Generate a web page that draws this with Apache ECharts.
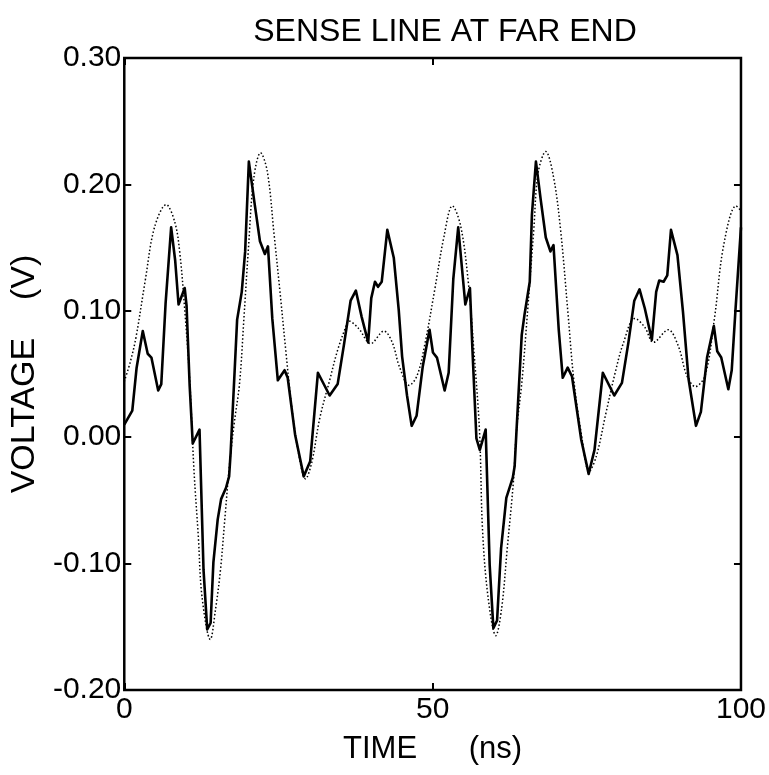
<!DOCTYPE html>
<html>
<head>
<meta charset="utf-8">
<script src="https://cdn.jsdelivr.net/npm/echarts@6/dist/echarts.min.js"></script>
<style>
html,body{margin:0;padding:0;background:#fff;}
#c{width:769px;height:775px;}
</style>
</head>
<body>
<div id="c"></div>
<script>
// Time axis ticks and labels
const xTickValues = [0, 50, 100];
const yTickLabels = ['-0.20', '-0.10', '0.00', '0.10', '0.20', '0.30'];

// Solid trace: time (ns)
const solidTime = [0,1.3,2.0,3.0,3.8,4.4,5.5,6.0,6.7,7.6,8.25,8.8,9.8,10.1,10.6,11.1,12.2,12.85,13.45,14.0,14.45,15.15,15.7,16.5,17.0,17.25,17.9,18.3,19.05,19.6,20.2,21.1,22.0,22.8,23.3,24.0,24.9,26.0,26.5,27.7,29.1,30.15,31.4,33.3,34.6,35.65,36.7,37.55,38.5,39.55,40.05,40.65,41.15,41.75,42.65,43.7,44.5,45.05,45.85,46.6,47.4,48.4,49.5,50.05,50.7,51.95,52.6,53.35,54.15,55.3,56.05,56.45,57.1,57.65,58.6,59.25,59.85,60.45,61.1,61.95,63.0,63.3,63.6,64.45,64.9,65.75,66.1,66.75,67.5,68.35,69.1,69.6,70.45,71.1,71.9,72.6,74.1,75.3,76.25,77.6,79.45,80.7,81.75,82.7,83.55,84.4,85.55,86.25,86.75,87.45,88.05,88.65,89.7,90.6,91.5,92.7,93.5,94.5,95.6,96.15,96.8,97.95,98.5,99.1,100];
// Solid trace: voltage (V)
const solidVolt = [0.010,0.021,0.055,0.084,0.066,0.063,0.037,0.042,0.106,0.166,0.140,0.105,0.118,0.104,0.041,-0.005,0.006,-0.105,-0.152,-0.147,-0.099,-0.065,-0.049,-0.040,-0.031,-0.012,0.053,0.093,0.115,0.147,0.218,0.186,0.155,0.145,0.151,0.094,0.045,0.053,0.047,0.002,-0.031,-0.019,0.051,0.033,0.042,0.074,0.108,0.116,0.095,0.075,0.110,0.123,0.119,0.123,0.164,0.142,0.101,0.064,0.033,0.009,0.017,0.056,0.085,0.067,0.063,0.037,0.051,0.125,0.166,0.105,0.118,0.070,-0.001,-0.010,0.006,-0.101,-0.151,-0.145,-0.088,-0.048,-0.032,-0.023,0.005,0.081,0.097,0.123,0.176,0.218,0.189,0.158,0.147,0.152,0.085,0.047,0.055,0.048,-0.002,-0.029,-0.010,0.051,0.033,0.043,0.075,0.108,0.117,0.102,0.077,0.115,0.124,0.123,0.128,0.164,0.144,0.099,0.046,0.009,0.020,0.063,0.088,0.068,0.063,0.038,0.053,0.100,0.166];

// Dotted trace: time (ns)
const dottedTime = [0,1.0,1.9,3.4,4.9,6.8,8.2,9.0,9.8,10.6,11.3,12.0,12.6,13.95,14.8,15.6,16.3,17.0,17.8,18.7,19.4,20.1,21.0,22.1,23.2,24.3,25.25,26.2,27.1,28.2,29.4,30.4,31.7,33.3,34.6,35.9,36.4,38.0,39.95,42.1,43.45,44.6,46.2,47.5,48.8,50.35,51.85,53.2,54.55,55.8,56.65,57.6,58.1,59.0,60.25,61.2,62.1,63.1,63.6,64.5,65.45,66.4,67.1,68.35,69.6,70.75,71.95,72.9,74.1,75.4,76.55,78.1,79.6,80.9,82.8,84.4,85.8,88.2,89.85,91.2,92.6,94.2,95.7,97.2,99.2,100];
// Dotted trace: voltage (V)
const dottedVolt = [0.044,0.060,0.079,0.124,0.166,0.184,0.170,0.146,0.101,0.046,-0.026,-0.078,-0.126,-0.160,-0.136,-0.105,-0.065,-0.025,0.010,0.043,0.094,0.147,0.205,0.225,0.210,0.160,0.115,0.068,0.026,-0.011,-0.033,-0.020,0.015,0.045,0.069,0.087,0.092,0.086,0.074,0.084,0.075,0.056,0.041,0.049,0.075,0.117,0.159,0.183,0.167,0.122,0.071,0.005,-0.074,-0.127,-0.157,-0.135,-0.088,-0.035,0.005,0.045,0.103,0.164,0.209,0.226,0.206,0.164,0.098,0.045,0.003,-0.027,-0.015,0.019,0.051,0.074,0.094,0.087,0.075,0.085,0.072,0.049,0.040,0.049,0.094,0.152,0.183,0.179];

const solidData = solidTime.map((t, i) => [t, solidVolt[i]]);
const dottedData = dottedTime.map((t, i) => [t, dottedVolt[i]]);

const FONT = 'Liberation Sans, Arial, Helvetica, sans-serif';
const chart = echarts.init(document.getElementById('c'), null, {renderer: 'canvas'});

const yLabel = v => {
  const idx = Math.round((v + 0.2) / 0.1);
  return yTickLabels[idx] !== undefined ? yTickLabels[idx] : '';
};
const xLabel = v => {
  const r = Math.round(v);
  return xTickValues.indexOf(r) >= 0 ? String(r) : '';
};

const tickStyle = {show: true, inside: true, length: 7, lineStyle: {color: '#000', width: 2}};
const hiddenLine = {show: false, onZero: false};

chart.setOption({
  backgroundColor: '#fff',
  animation: false,
  title: {
    text: 'SENSE LINE AT FAR END',
    left: 440, top: 11, textAlign: 'center',
    textStyle: {fontFamily: FONT, fontSize: 32, fontWeight: 'normal', color: '#000'}
  },
  grid: {
    left: 124, top: 58, width: 619, height: 632,
    show: true, borderColor: '#000', borderWidth: 2.5, backgroundColor: 'transparent'
  },
  xAxis: [{
    type: 'value', min: 0, max: 100, interval: 50, position: 'bottom',
    name: 'TIME      (ns)', nameLocation: 'middle', nameGap: 44,
    nameTextStyle: {fontFamily: FONT, fontSize: 31, color: '#000'},
    axisLine: hiddenLine,
    axisTick: tickStyle,
    axisLabel: {formatter: xLabel, fontFamily: FONT, fontSize: 30, color: '#000', margin: 5},
    splitLine: {show: false}
  }, {
    type: 'value', min: 0, max: 100, interval: 50, position: 'top',
    axisLine: hiddenLine, axisTick: tickStyle, axisLabel: {show: false}, splitLine: {show: false}
  }],
  yAxis: [{
    type: 'value', min: -0.2, max: 0.3, interval: 0.1, position: 'left',
    name: 'VOLTAGE    (V)', nameLocation: 'middle', nameGap: 80,
    nameTextStyle: {fontFamily: FONT, fontSize: 34, color: '#000'},
    axisLine: hiddenLine,
    axisTick: tickStyle,
    axisLabel: {formatter: yLabel, fontFamily: FONT, fontSize: 30, color: '#000', margin: 3},
    splitLine: {show: false}
  }, {
    type: 'value', min: -0.2, max: 0.3, interval: 0.1, position: 'right',
    axisLine: hiddenLine, axisTick: tickStyle, axisLabel: {show: false}, splitLine: {show: false}
  }],
  series: [{
    type: 'line', data: dottedData, xAxisIndex: 0, yAxisIndex: 0,
    showSymbol: false, smooth: 0.35,
    lineStyle: {color: '#000', width: 1.5, type: [1.5, 2.2]}
  }, {
    type: 'line', data: solidData, xAxisIndex: 0, yAxisIndex: 0,
    showSymbol: false, smooth: false,
    lineStyle: {color: '#000', width: 2.6, join: 'round'}
  }]
});
</script>
</body>
</html>
